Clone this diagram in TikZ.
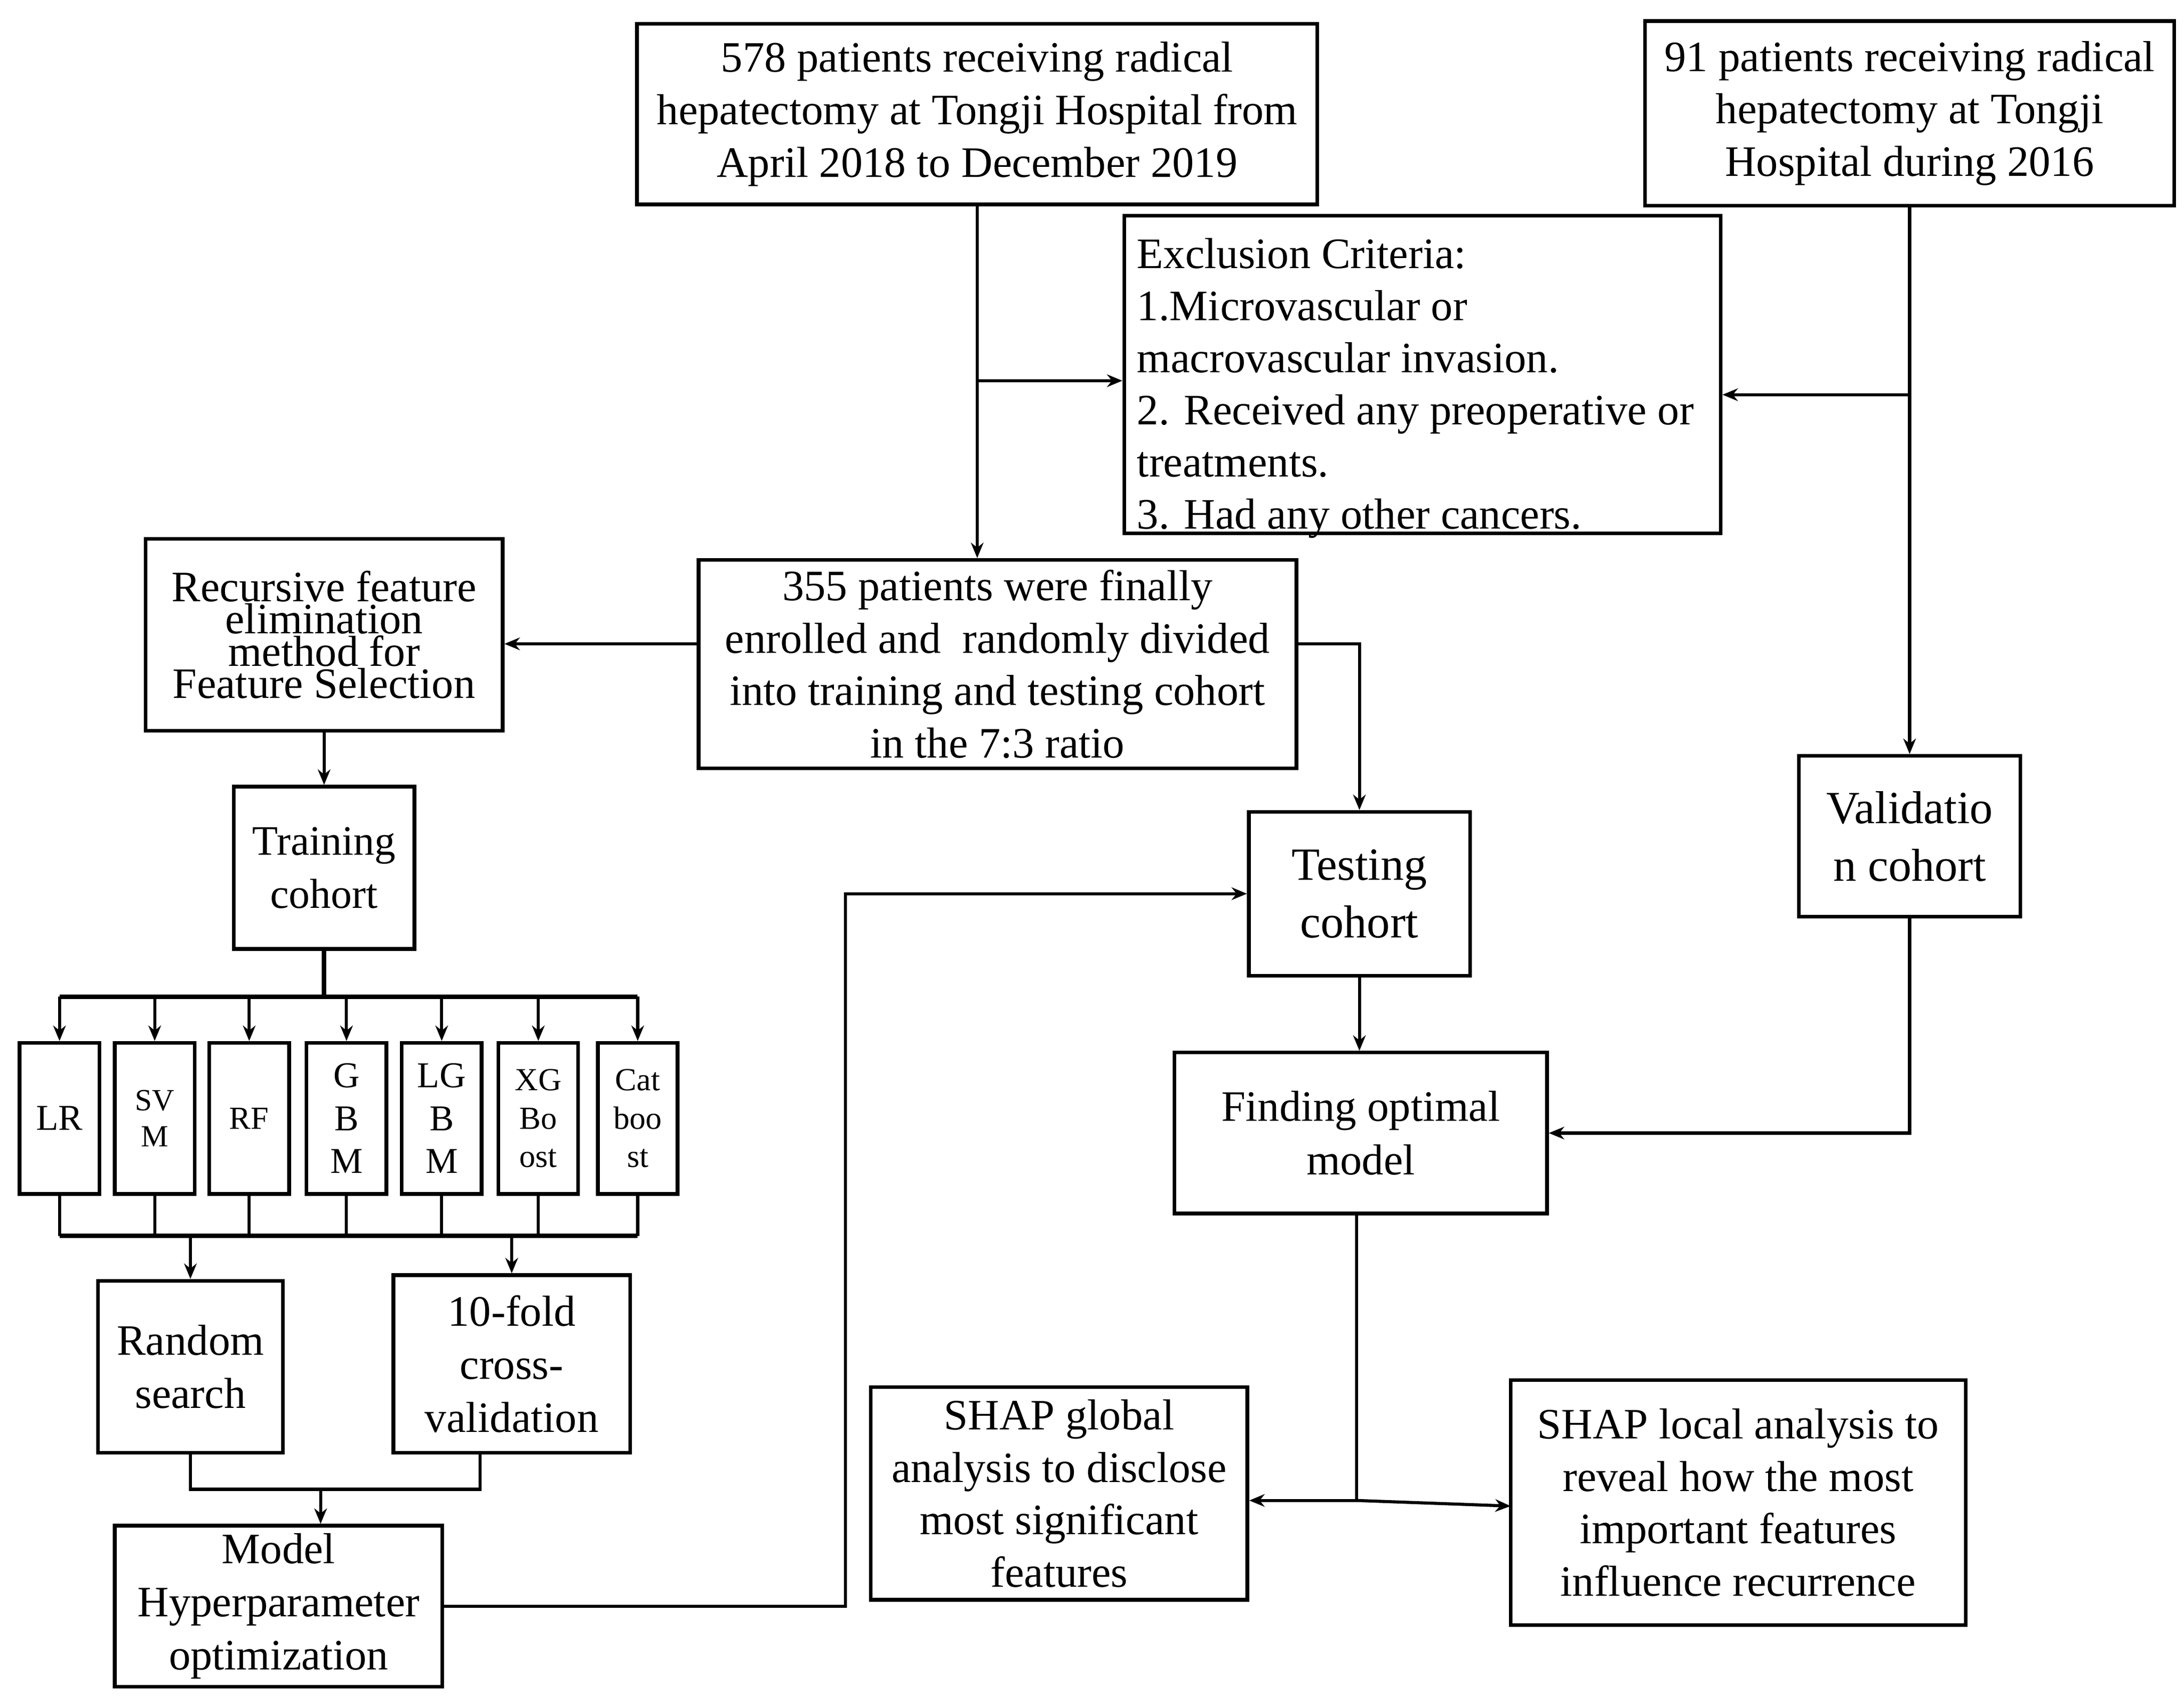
\documentclass[tikz,border=0pt]{standalone}
\usepackage{fontspec}
\setmainfont{Liberation Serif}
\usetikzlibrary{arrows.meta}
\begin{document}
\begin{tikzpicture}[x=1pt,y=-1pt,
  box/.style={draw,line width=2.6pt,inner sep=0pt,align=center,font=\fontsize{31}{37.5}\selectfont},
  bigbox/.style={box,font=\fontsize{33}{41}\selectfont},
  mbox/.style={draw,line width=2.6pt,inner sep=0pt,align=center,minimum width=57pt,minimum height=108pt},
  conn/.style={line width=2.2pt,-{Stealth[length=11pt,width=9pt]}},
  plain/.style={line width=2.2pt},
  bus/.style={line width=3.2pt}]
\fill[white] (0,0) rectangle (1560,1213.5);
\useasboundingbox (0,0) rectangle (1560,1213.5);

% top boxes
\node[box,minimum width=486pt,minimum height=129pt] (A) at (698,81.5)
  {578 patients receiving radical\\hepatectomy at Tongji Hospital from\\April 2018 to December 2019};
\node[box,minimum width=378pt,minimum height=132pt] (B) at (1364,81)
  {91 patients receiving radical\\hepatectomy at Tongji\\Hospital during 2016};
\node[box,minimum width=426pt,minimum height=227pt] (E) at (1016,267.5) {};
\node[anchor=north west,inner sep=0pt,align=left,font=\fontsize{31}{37.2}\selectfont] (Et) at (812,170)
  {Exclusion Criteria:\\1.Microvascular or\\macrovascular invasion.\\2. Received any preoperative or\\treatments.\\3. Had any other cancers.};

% middle
\node[box,minimum width=427pt,minimum height=149pt] (M) at (712.5,474.5)
  {355 patients were finally\\enrolled and\ \ randomly divided\\into training and testing cohort\\in the 7:3 ratio};
\node[box,minimum width=255pt,minimum height=137pt,font=\fontsize{31}{23}\selectfont] (R) at (231.5,453.5)
  {Recursive feature\\elimination\\method for\\Feature Selection};
\node[box,minimum width=129pt,minimum height=116pt,font=\fontsize{30}{38}\selectfont] (T) at (231.5,620) {Training\\cohort};

% models
\node[mbox,font=\fontsize{26}{26}\selectfont] (LR) at (42.5,799) {LR};
\node[mbox,font=\fontsize{22}{26}\selectfont] (SVM) at (110.5,799) {SV\\M};
\node[mbox,font=\fontsize{23}{26}\selectfont] (RF) at (178,799) {RF};
\node[mbox,font=\fontsize{26}{30.5}\selectfont] (GBM) at (247.5,799) {G\\B\\M};
\node[mbox,font=\fontsize{26}{30.5}\selectfont] (LGBM) at (315.5,799) {LG\\B\\M};
\node[mbox,font=\fontsize{23}{27.5}\selectfont] (XGB) at (384.5,799) {XG\\Bo\\ost};
\node[mbox,font=\fontsize{23}{27.5}\selectfont] (Cat) at (455.5,799) {Cat\\boo\\st};

\node[box,minimum width=132pt,minimum height=123pt,font=\fontsize{31}{38}\selectfont] (RS) at (136,976.5) {Random\\search};
\node[box,minimum width=169pt,minimum height=127pt,font=\fontsize{31}{38}\selectfont] (F) at (365.5,974.5) {10-fold\\cross-\\validation};
\node[box,minimum width=234pt,minimum height=115pt,font=\fontsize{31}{38}\selectfont] (H) at (199,1147.5) {Model\\Hyperparameter\\optimization};

% right side
\node[bigbox,minimum width=158pt,minimum height=117pt] (Te) at (971,638.5) {Testing\\cohort};
\node[bigbox,minimum width=158pt,minimum height=115pt] (V) at (1364,597.5) {Validatio\\n cohort};
\node[box,minimum width=266pt,minimum height=115pt,font=\fontsize{31}{38}\selectfont] (O) at (972,809.5) {Finding optimal\\model};
\node[box,minimum width=269pt,minimum height=152pt] (G) at (756.5,1067)
  {SHAP global\\analysis to disclose\\most significant\\features};
\node[box,minimum width=325pt,minimum height=175pt] (L) at (1241.5,1073.5)
  {SHAP local analysis to\\reveal how the most\\important features\\influence recurrence};

% connectors top
\draw[conn] (A.south) -- (A.south |- M.north);
\coordinate (a1) at (698,272);
\draw[conn] (a1) -- (a1 -| E.west);
\draw[conn] (B.south) -- (B.south |- V.north);
\coordinate (b1) at (1364,282);
\draw[conn] (b1) -- (b1 -| E.east);
\coordinate (m1) at (499,460);
\draw[conn] (m1) -- (m1 -| R.east);
\coordinate (m2) at (926,460);
\draw[conn] (m2) -| (Te.north);
\draw[conn] (R.south) -- (R.south |- T.north);

% training to models
\coordinate (t1) at (231.5,712);
\draw[bus] (T.south) -- (t1);
\draw[bus] (LR.north |- t1) -- (Cat.north |- t1);
\foreach \m in {LR,SVM,RF,GBM,LGBM,XGB,Cat}{
  \draw[conn] (\m.north |- t1) -- (\m.north);
  \draw[plain] (\m.south) -- (\m.south |- 0,883);
}
\coordinate (u1) at (0,883);
\draw[bus] (LR.south |- u1) -- (Cat.south |- u1);
\draw[conn] (RS.north |- u1) -- (RS.north);
\draw[conn] (F.north |- u1) -- (F.north);

% merge to H
\coordinate (v1) at (0,1064);
\coordinate (f1) at (343,1038);
\draw[plain] (RS.south) -- (RS.south |- v1) -- (f1 |- v1) -- (f1);
\coordinate (v2) at (229,1064);
\draw[conn] (v2) -- (v2 |- H.north);

% H to testing
\draw[conn] (H.east) -- (604,1147.5) |- (Te.west);
\draw[conn] (Te.south) -- (Te.south |- O.north);
\draw[conn] (V.south) |- (O.east);

% O to SHAP
\coordinate (o1) at (969,1072);
\draw[plain] (o1 |- O.south) -- (o1);
\draw[conn] (o1) -- (o1 -| G.east);
\draw[conn] (o1) -- (1079,1076);
\end{tikzpicture}
\end{document}
